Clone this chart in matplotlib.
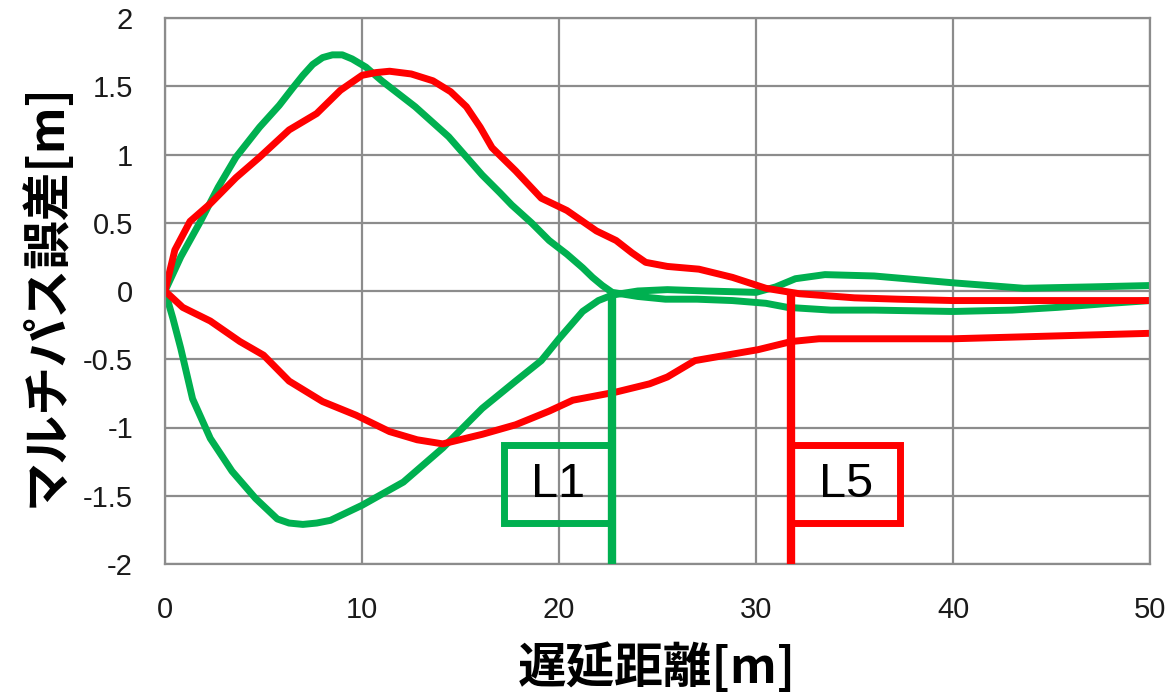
import matplotlib.pyplot as plt
from matplotlib.patches import Rectangle

plt.rcParams['font.family'] = ['Noto Sans CJK JP', 'DejaVu Sans']

GREEN = '#00b050'
RED = '#ff0000'
GRID = '#8c8c8c'

# multipath error envelopes, green pair
green_up_x = [0, 0.8, 1.8, 2.7, 3.6, 4.8, 5.8, 6.5, 7.0, 7.5, 8.0, 8.5, 9.0,
              9.5, 10.2, 11.0, 12.7, 14.4, 16.1, 17.0, 17.6, 18.6, 19.5, 20.4,
              21.2, 21.7, 22.2, 22.7, 24, 25.4, 27, 28.8, 30.5, 31.6, 32.7,
              33.8, 36, 40, 43, 45.3, 48, 50]
green_up_y = [0, 0.25, 0.51, 0.76, 0.98, 1.2, 1.36, 1.49, 1.58, 1.66, 1.71,
              1.73, 1.73, 1.70, 1.64, 1.54, 1.35, 1.13, 0.85, 0.72, 0.63,
              0.50, 0.37, 0.27, 0.17, 0.10, 0.04, -0.01, -0.04, -0.06, -0.06,
              -0.07, -0.09, -0.12, -0.13, -0.14, -0.14, -0.15, -0.14, -0.12,
              -0.09, -0.07]
green_lo_x = [0, 0.4, 0.8, 1.4, 2.3, 3.4, 4.6, 5.7, 6.3, 7.0, 7.7, 8.4, 10.0,
              12.1, 14.1, 16.1, 17.8, 19.1, 20.0, 21.2, 22.0, 22.7, 24, 25.5,
              27.5, 30, 31, 32, 33.5, 36, 40, 43.6, 47, 50]
green_lo_y = [0, -0.2, -0.42, -0.79, -1.08, -1.32, -1.52, -1.67, -1.70,
              -1.71, -1.70, -1.68, -1.57, -1.40, -1.15, -0.86, -0.66, -0.51,
              -0.35, -0.15, -0.07, -0.03, 0.0, 0.01, 0.0, -0.01, 0.03, 0.09,
              0.12, 0.11, 0.06, 0.02, 0.03, 0.04]

# red pair
red_up_x = [0, 0.5, 1.27, 2.3, 3.6, 4.8, 6.3, 7.7, 8.9, 10.0, 10.7, 11.4,
            12.5, 13.6, 14.5, 15.3, 16.0, 16.6, 17.8, 19.1, 20.4, 21.9, 22.9,
            23.7, 24.4, 25.5, 27.1, 28.8, 30.5, 32.2, 35, 37.2, 40, 45, 50]
red_up_y = [0, 0.3, 0.51, 0.64, 0.83, 0.98, 1.18, 1.30, 1.47, 1.58, 1.60,
            1.61, 1.59, 1.54, 1.46, 1.35, 1.2, 1.05, 0.88, 0.68, 0.59, 0.44,
            0.37, 0.28, 0.21, 0.18, 0.16, 0.10, 0.02, -0.02, -0.05, -0.06,
            -0.07, -0.07, -0.07]
red_lo_x = [0, 0.9, 2.3, 3.8, 5.0, 6.3, 8.0, 9.7, 11.4, 12.8, 14.1, 16.1,
            17.8, 19.5, 20.7, 22.9, 24.6, 25.5, 26.9, 28.5, 30.1, 31.8, 33.2,
            37.2, 40, 45, 50]
red_lo_y = [0, -0.12, -0.22, -0.37, -0.47, -0.66, -0.81, -0.91, -1.03, -1.09,
            -1.12, -1.05, -0.98, -0.88, -0.80, -0.74, -0.68, -0.63, -0.51,
            -0.47, -0.43, -0.37, -0.35, -0.35, -0.35, -0.33, -0.31]

# convergence distances, box drawn on the left (-1) or right (+1) of the line
marker_names = ['L1', 'L5']
marker_x = [22.7, 31.8]
marker_side = [-1, 1]
marker_colors = [GREEN, RED]

xticks = [0, 10, 20, 30, 40, 50]
yticks = [-2, -1.5, -1, -0.5, 0, 0.5, 1, 1.5, 2]
ytick_labels = ['-2', '-1.5', '-1', '-0.5', '0', '0.5', '1', '1.5', '2']

fig = plt.figure(figsize=(11.71, 6.98), dpi=100)
ax = fig.add_axes([165 / 1171, 1 - 564 / 698, 985 / 1171, 546 / 698])

kw = dict(lw=5, solid_joinstyle='round', solid_capstyle='round')
ax.plot(green_up_x, green_up_y, color=GREEN, **kw)
ax.plot(green_lo_x, green_lo_y, color=GREEN, **kw)
ax.plot(red_up_x, red_up_y, color=RED, **kw)
ax.plot(red_lo_x, red_lo_y, color=RED, **kw)

box_w, box_top, box_bot = 5.5, -1.13, -1.70
for name, mx, side, c in zip(marker_names, marker_x, marker_side,
                             marker_colors):
    ax.plot([mx, mx], [0, -2], color=c, lw=6, solid_capstyle='butt',
            zorder=4, clip_on=False)
    x0 = mx if side > 0 else mx - box_w
    ax.add_patch(Rectangle((x0, box_bot), box_w, box_top - box_bot,
                           fill=False, edgecolor=c, lw=5, zorder=4,
                           joinstyle='miter'))
    ax.text(x0 + box_w / 2, (box_top + box_bot) / 2, name,
            family='Liberation Sans', fontsize=35, ha='center', va='center',
            color='black', zorder=5)

ax.set_xlim(0, 50)
ax.set_ylim(-2, 2)
ax.set_xticks(xticks)
ax.set_yticks(yticks)
ax.set_yticklabels(ytick_labels)
ax.grid(True, color=GRID, lw=1.6)
ax.set_axisbelow(True)
for s in ax.spines.values():
    s.set_color(GRID)
    s.set_linewidth(1.6)
ax.tick_params(length=0, pad=23, labelsize=21, labelcolor='#1a1a1a')
for lab in ax.get_xticklabels() + ax.get_yticklabels():
    lab.set_family('Liberation Sans')

fig.text(45 / 1171, 1 - 295 / 698, 'マルチパス誤差[m]', rotation=90,
         ha='center', va='center', fontsize=35, fontweight='bold')
fig.text(657 / 1171, 1 - 668 / 698, '遅延距離[m]', ha='center', va='center',
         fontsize=35, fontweight='bold')

fig.savefig('out.png', dpi=100)
